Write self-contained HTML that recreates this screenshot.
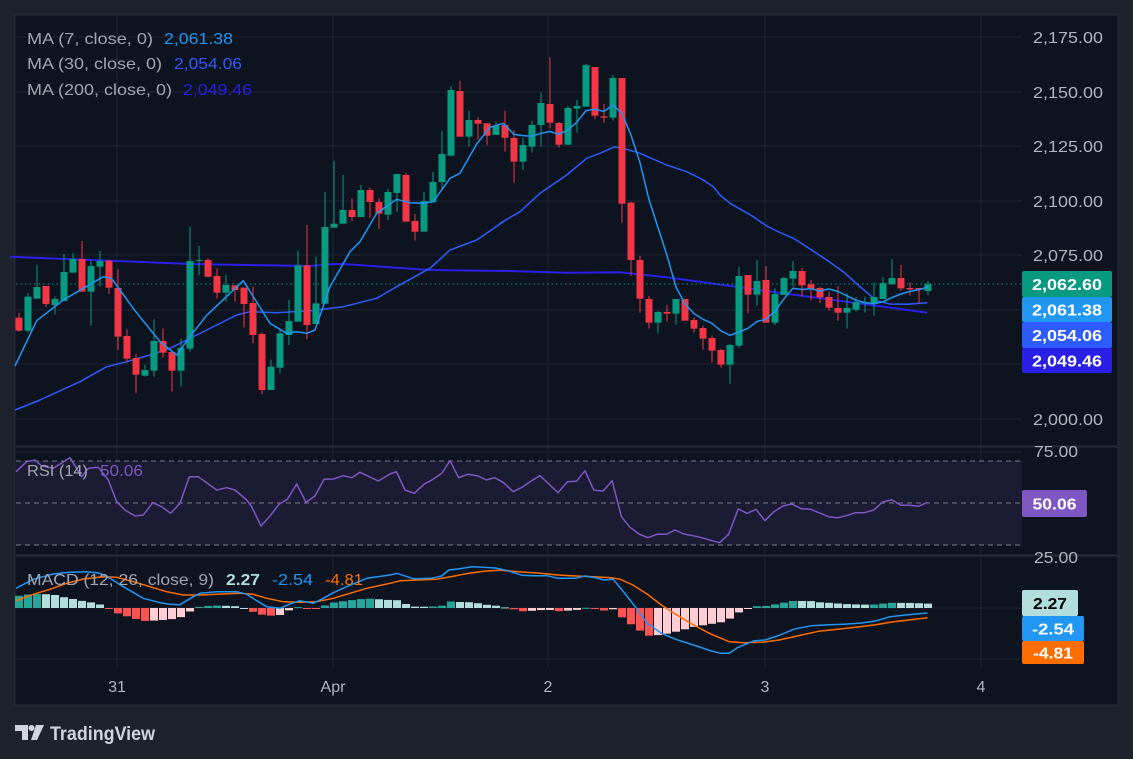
<!DOCTYPE html>
<html><head><meta charset="utf-8">
<style>
html,body{margin:0;padding:0;background:#1e222d;}
body{width:1133px;height:759px;overflow:hidden;position:relative;font-family:"Liberation Sans",sans-serif;}
svg{position:absolute;left:0;top:0;}
</style></head>
<body>
<svg id="s" width="1133" height="759" xmlns="http://www.w3.org/2000/svg"></svg>
<script>
const S=document.getElementById('s');
let h='';
function add(x){h+=x;}
add('<rect x="15" y="15" width="1103" height="690" fill="#0e1320" stroke="#2a2e39" stroke-width="1"/>');
[117,333,548,765,981].forEach(x=>add(`<line x1="${x}" y1="16" x2="${x}" y2="668" stroke="#1f2432" stroke-width="1"/>`));
[37,92,146,201,255,310,364,419].forEach(y=>add(`<line x1="16" y1="${y}" x2="1022" y2="${y}" stroke="#1f2432"/>`));
add('<line x1="16" y1="446.5" x2="1117" y2="446.5" stroke="#2a2e39" stroke-width="2"/>');
add('<line x1="16" y1="555.5" x2="1117" y2="555.5" stroke="#2a2e39" stroke-width="2"/>');
add('<line x1="16" y1="452" x2="1022" y2="452" stroke="#1f2432"/>');
add('<line x1="16" y1="608" x2="1022" y2="608" stroke="#1f2432"/>');
add('<line x1="16" y1="659" x2="1022" y2="659" stroke="#1f2432"/>');
add('<rect x="16" y="461" width="1006" height="84" fill="#1b1c33"/>');
[461,503,545].forEach(y=>add(`<line x1="16" y1="${y}" x2="1022" y2="${y}" stroke="#787b86" stroke-dasharray="5,4"/>`));
const C=[
['R',833,872,818,875],['G',770,872,760,878],['G',741,776,675,776],['R',738,792,738,800],['G',777,795,770,823],
['G',696,783,642,783],['G',657,698,640,698],['R',657,755,603,755],['G',678,755,663,857],['G',663,680,633,740],
['R',662,743,660,762],['R',744,890,688,930],['R',888,956,868,968],['R',954,1004,942,1060],['G',990,1007,975,1010],
['G',903,992,838,1010],['R',903,938,865,953],['R',936,992,936,1055],['G',924,992,895,1040],['G',663,926,560,935],
['G',660,663,618,705],['R',660,710,655,712],['R',708,758,685,775],['G',735,758,703,785],['R',736,750,736,785],
['R',743,792,743,862],['R',789,885,740,910],['R',882,1050,878,1062],['G',980,1050,958,1050],['G',880,983,870,1000],
['G',843,885,780,915],['G',676,845,632,845],['R',676,855,555,898],['G',790,852,650,852],['G',561,791,456,791],
['G',551,563,363,563],['G',510,551,405,551],['R',510,531,475,543],['G',450,531,435,531],['R',450,486,443,533],
['R',486,521,475,567],['G',456,524,447,540],['G',402,459,402,515],['R',405,545,398,545],['R',543,575,522,602],
['G',483,575,456,575],['G',426,487,396,487],['G',342,426,273,450],['G',150,347,138,347],['R',153,290,123,290],
['G',240,290,212,320],['R',240,251,232,300],['R',250,287,250,315],['G',256,285,246,285],['R',255,293,212,335],
['R',294,365,270,428],['G',315,365,294,390],['G',255,320,243,338],['G',189,255,158,320],['R',192,248,53,265],
['R',249,314,246,323],['G',204,314,198,314],['G',198,206,180,278],['G',75,200,72,200],['R',81,227,81,237],
['R',229,233,192,248],['G',114,233,105,242],['R',114,491,114,548],['R',488,660,486,708],['R',660,776,648,818],
['R',777,848,768,866],['G',816,848,813,881],['R',816,821,795,845],['G',777,821,777,854],['R',777,842,777,842],
['R',840,866,833,878],['R',864,896,857,929],['R',894,932,887,968],['R',930,974,926,983],['G',915,974,912,1031],
['G',708,917,681,923],['R',705,764,705,820],['G',723,764,660,797],['R',720,848,678,848],['G',762,848,745,855],
['G',714,765,710,765],['G',693,716,663,740],['R',693,736,684,769],['R',733,746,720,781],['R',744,772,740,789],
['R',771,803,755,812],['R',804,818,738,842],['G',804,818,760,866],['G',786,809,771,815],['G',786,790,770,818],
['G',771,790,728,827],['G',729,777,711,777],['G',714,732,657,735],['R',714,745,675,752],['R',744,748,727,767],
['R',744,749,744,790],['G',732,753,723,765]];
const X=k=>19+9*k;
const Y=v=>40+v/3;
let cand='';const closes=[];
C.forEach((c,k)=>{
 const col=c[0]=='G'?'#089981':'#f23645';
 const x=X(k),t=Y(c[1]),b=Y(c[2]),hi=Y(c[3]),lo=Y(c[4]);
 closes.push(c[0]=='G'?t:b);
 cand+=`<line x1="${x}" y1="${hi}" x2="${x}" y2="${lo}" stroke="${col}" stroke-width="1"/>`;
 cand+=`<rect x="${x-3.5}" y="${t}" width="7" height="${Math.max(1,b-t)}" fill="${col}"/>`;
});
function pl(pts,col,w){return `<polyline points="${pts.map(p=>p[0].toFixed(1)+','+p[1].toFixed(1)).join(' ')}" fill="none" stroke="${col}" stroke-width="${w}" stroke-linejoin="round"/>`;}
function conv(arr,ox,oy,sx,sy){return arr.map(p=>[ox+p[0]/sx,oy+p[1]/sy]);}
let m200=conv([[0,650],[300,662],[540,672],[900,678],[960,673],[1000,672],[1160,683],[1260,690],[1480,693]],10,40,3,3)
 .concat(conv([[0,692],[200,698],[360,697],[500,712],[720,742],[820,756],[1000,780],[1282,818]],500,40,3,3));
let m30=[[15,410]].concat(conv([[90,1080],[210,1025],[290,980],[350,965],[420,945],[480,925],[590,870],[680,825],[720,815],[800,818],[900,812],[1000,800],[1100,775],[1160,740],[1260,685],[1320,630],[1400,600],[1480,545]],10,40,3,3))
 .concat(conv([[0,550],[60,515],[120,460],[200,405],[260,355],[300,340],[340,322],[360,322],[420,340],[500,375],[560,395],[610,420],[640,440],[660,465],[690,490],[760,530],[800,558],[830,573],[880,595],[920,620],[980,660],[1030,695],[1080,740],[1130,782],[1170,792],[1220,793],[1282,788]],500,40,3,3));
let m7=[[15,366]];
const m7a=[[80,842],[160,780],[280,710],[305,716],[375,812],[450,905],[500,945],[540,890],[590,826],[700,722],[780,850],[830,880],[860,875],[890,880],[915,870],[960,740],[1020,635],[1050,605],[1100,520],[1160,478],[1200,488],[1240,490],[1270,485],[1320,415],[1350,400],[1400,312],[1440,262],[1480,250]];
m7=m7.concat(conv(m7a,10,40,3,3));
for(let k=55;k<C.length;k++){let s=0;for(let j=k-6;j<=k;j++)s+=closes[j];m7.push([X(k),s/7]);}
add('<g>'+pl(m200,'#2a1fe6',2)+pl(m30,'#2e5bff',1.5)+'</g>');
add(`<line x1="16" y1="284" x2="1022" y2="284" stroke="#089981" stroke-dasharray="1.5,3"/>`);
add(cand);
add(pl(m7,'#2196f3',1.5));
let rsi=conv([[48,125],[80,95],[105,90],[125,108],[160,115],[210,83],[245,140],[265,115],[295,112],[325,150],[350,215],[375,240],[405,258],[430,255],[458,218],[485,230],[512,250],[540,220],[568,140],[595,140],[650,180],[680,173],[705,180],[740,210],[755,230],[783,288],[810,258],[838,222],[862,208],[890,162],[918,217],[945,198],[972,148],[1000,147],[1030,137],[1055,143],[1080,127],[1135,153]],0,430,3,3)
.concat(conv([[0,72],[18,65],[42,120],[68,130],[95,103],[120,88],[145,70],[168,32],[192,83],[218,73],[245,77],[270,90],[293,83],[318,98],[345,125],[370,112],[395,93],[420,77],[445,102],[470,128],[497,95],[522,94],[546,62],[571,121],[597,123],[622,92],[648,200],[672,232],[697,252],[722,263],[748,253],[774,253],[798,240],[823,252],[848,257],[873,263],[898,271],[923,278],[948,253],[975,177],[1000,190],[1025,178],[1050,212],[1075,185],[1100,168],[1125,162],[1152,176],[1178,178],[1205,190],[1228,200],[1253,203],[1278,197],[1303,188],[1328,188],[1355,180],[1378,157],[1405,149],[1430,166],[1455,166],[1480,169],[1505,157]],390,450,2.8,3));
add(pl(rsi,'#7e57c2',1.5));
let mb=conv([[48,475],[100,448],[160,432],[210,427],[260,425],[300,430],[330,445],[370,470],[430,505],[480,518],[510,523],[540,524],[580,500],[600,490],[650,485],[710,485],[740,493],[770,512],[800,530],[840,535],[870,522],[900,512],[940,520],[970,505],[1000,488],[1040,470],[1100,445]],0,430,3,3)
.concat(conv([[0,375],[20,370],[65,386],[115,385],[145,378],[165,360],[195,356],[230,350],[260,352],[295,354],[330,362],[370,376],[400,377],[440,377],[470,385],[520,385],[545,378],[575,383],[600,390],[625,388],[650,420],[690,475],[720,520],[760,550],[800,568],[850,585],[900,603],[925,610],[950,610],[975,592],[1020,572],[1050,570],[1090,556],[1130,538],[1180,527],[1230,524],[1270,523],[1320,519],[1360,513],[1400,500],[1450,494],[1505,489]],390,450,2.8,3));
let mo=conv([[48,512],[100,493],[150,478],[200,460],[250,447],[310,440],[350,442],[400,455],[450,470],[500,485],[550,495],[600,495],[650,493],[720,490],[760,493],[800,505],[850,515],[900,517],[950,515],[1000,505],[1050,490],[1100,475]],0,430,3,3)
.concat(conv([[0,400],[30,392],[80,390],[130,388],[170,380],[220,370],[270,363],[310,361],[360,365],[420,370],[470,375],[520,378],[570,380],[620,383],[645,388],[680,405],[720,432],[760,465],[800,493],[850,525],[900,553],[950,575],[990,578],[1040,577],[1090,570],[1140,558],[1200,544],[1260,537],[1310,531],[1360,524],[1410,515],[1460,509],[1505,503]],390,450,2.8,3));
function interp(a,x){if(x<=a[0][0])return a[0][1];for(let i=1;i<a.length;i++){if(a[i][0]>=x){const t=(x-a[i-1][0])/(a[i][0]-a[i-1][0]);return a[i-1][1]+t*(a[i][1]-a[i-1][1]);}}return a[a.length-1][1];}
let hist='';let prev=0;
for(let k=0;k<C.length;k++){const x=X(k);const v=(interp(mo,x)-interp(mb,x))*0.95;
 let col;if(v>=0)col=v>=prev?'#26a69a':'#b2dfdb';else col=v<prev?'#ff5252':'#ffcdd2';
 prev=v;const y=v>=0?608-v:608;hist+=`<rect x="${x-4}" y="${y.toFixed(1)}" width="8" height="${Math.max(1,Math.abs(v)).toFixed(1)}" fill="${col}"/>`;}
add(hist);
add(pl(mo,'#ff6d00',1.5));add(pl(mb,'#2196f3',1.5));
const F='font-family="Liberation Sans, sans-serif"';
function tx(x,y,s,col,size,anchor,weight,len){return `<text x="${x}" y="${y}" ${F} font-size="${size||16}" fill="${col}" ${anchor?'text-anchor="'+anchor+'"':''} ${weight?'font-weight="'+weight+'"':''} ${len?'textLength="'+len+'" lengthAdjust="spacingAndGlyphs"':''}>${s}</text>`;}
add(tx(27,44,'MA (7, close, 0)','#a3a6af',16,'','',126)+tx(164,44,'2,061.38','#2196f3',16,'','',69));
add(tx(27,69,'MA (30, close, 0)','#a3a6af',16,'','',135)+tx(174,69,'2,054.06','#2e5bff',16,'','',68));
add(tx(27,95,'MA (200, close, 0)','#a3a6af',16,'','',145)+tx(183,95,'2,049.46','#2a1fe6',16,'','',69));
add(tx(27,476,'RSI (14)','#a3a6af',16,'','',61)+tx(100,476,'50.06','#7e57c2',16,'','',43));
add(tx(27,585,'MACD (12, 26, close, 9)','#a3a6af',16,'','',187)+tx(226,585,'2.27','#b2dfdb',16,'','bold',34)+tx(272,585,'-2.54','#2196f3',16,'','',41)+tx(325,585,'-4.81','#ff6d00',16,'','',38));
[[37,'2,175.00'],[92,'2,150.00'],[146,'2,125.00'],[201,'2,100.00'],[255,'2,075.00'],[419,'2,000.00']].forEach(p=>add(tx(1033,p[0]+6,p[1],'#b2b5be',16,'','',70)));
add(tx(1034,457,'75.00','#b2b5be',16,'','',44));
add(tx(1034,563,'25.00','#b2b5be',16,'','',44));
function box(y1,y2,w,bg,s,fc,tl){add(`<rect x="1022" y="${y1}" width="${w}" height="${y2-y1}" rx="2" fill="${bg}"/>`);add(tx(1022+w/2,(y1+y2)/2+6,s,fc,16,'middle','bold',tl));}
box(271,297,90,'#089981','2,062.60','#ffffff',70);
box(297,322,90,'#2196f3','2,061.38','#ffffff',70);
box(322,348,90,'#2e5bff','2,054.06','#ffffff',70);
box(348,373,90,'#2a1fe6','2,049.46','#ffffff',70);
box(490,517,65,'#7e57c2','50.06','#ffffff',44);
box(590,616,56,'#b2dfdb','2.27','#000000',34);
box(616,641,62,'#2196f3','-2.54','#ffffff',42);
box(641,664,62,'#ff6d00','-4.81','#ffffff',40);
[[117,'31'],[333,'Apr'],[548,'2'],[765,'3'],[981,'4']].forEach(p=>add(tx(p[0],692,p[1],'#b2b5be',16,'middle')));
add('<path d="M15 725h13v15h-6v-9h-7z" fill="#d1d4dc"/><circle cx="31.5" cy="728" r="3" fill="#d1d4dc"/><path d="M36 725h8l-7 15h-6z" fill="#d1d4dc"/>');
add(tx(50,740,'TradingView','#d1d4dc',19,'','bold',105));
S.innerHTML=h;
</script>
</body></html>
